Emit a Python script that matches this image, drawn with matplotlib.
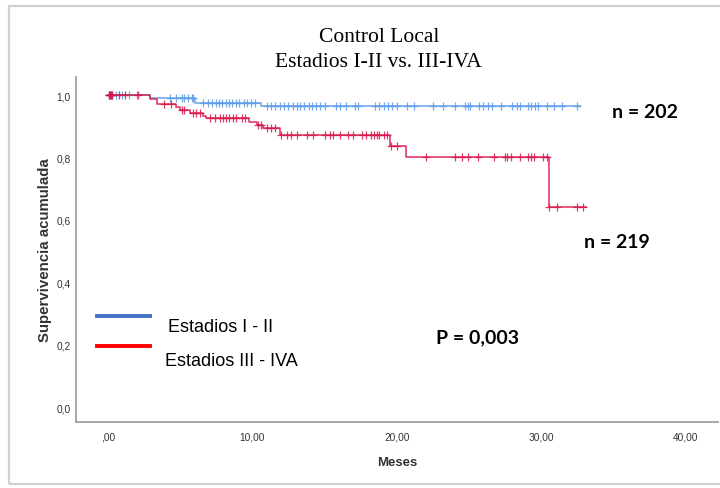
import numpy as np
import matplotlib
matplotlib.use("Agg")
import matplotlib.pyplot as plt
from matplotlib.patches import Rectangle
from matplotlib.lines import Line2D

# ---- data ----
# Estadios I-II (blue): step times and survival after each step
g1_times = [0.0, 2.9, 6.0, 10.6, 32.7]
g1_surv = [1.0, 0.992, 0.976, 0.966, 0.966]
g1_cens = [0.1, 0.3, 0.6, 1.0, 1.5, 2.0, 4.3, 4.75, 5.1, 5.3, 5.55, 5.8, 5.9,
           6.6, 6.9, 7.2, 7.5, 7.7, 7.9, 8.2, 8.4, 8.6, 8.9, 9.1, 9.4, 9.6, 9.9, 10.2,
           11.0, 11.3, 11.6, 11.9, 12.2, 12.5, 12.8, 13.1, 13.3, 13.6, 13.9, 14.1,
           14.4, 14.7, 15.0, 15.8, 16.1, 16.5, 17.1, 17.3, 18.5, 18.8, 19.1, 19.4,
           19.7, 20.0, 20.7, 21.2, 22.5, 23.2, 24.0, 24.7, 24.9, 25.1, 25.7, 26.0,
           26.3, 26.6, 27.2, 28.0, 28.3, 28.5, 29.1, 29.3, 29.6, 29.8, 30.4, 30.9,
           31.4, 32.5]

# Estadios III-IVA (red)
g2_times = [0.0, 2.9, 3.4, 4.75, 5.0, 5.7, 6.6, 6.8, 9.8, 10.3, 10.75, 11.9,
            19.5, 20.65, 30.5, 33.1]
g2_surv = [1.0, 0.987, 0.973, 0.961, 0.952, 0.944, 0.932, 0.925, 0.915, 0.904,
           0.893, 0.872, 0.838, 0.803, 0.642, 0.642]
g2_cens = [0.05, 0.1, 0.15, 0.2, 0.25, 0.3, 0.8, 1.2, 2.1, 3.9, 4.4, 5.1, 5.3,
           5.9, 6.1, 6.4, 7.1, 7.4, 7.75, 7.95, 8.2, 8.4, 8.65, 8.9, 9.3, 9.5,
           10.4, 10.6, 11.0, 11.3, 11.6, 12.0, 12.4, 12.7, 13.1, 13.8, 14.2, 15.0,
           15.4, 15.6, 16.1, 16.6, 17.0, 17.6, 17.9, 18.2, 18.4, 18.6, 18.8, 19.1,
           19.3, 19.6, 20.0, 22.05, 24.0, 24.5, 24.9, 25.6, 26.7, 27.5, 27.6, 27.9,
           28.5, 29.1, 29.3, 29.5, 30.1, 30.4, 30.5, 31.1, 32.5, 32.9]

x_ticks = [0, 10, 20, 30, 40]
x_ticklabels = [",00", "10,00", "20,00", "30,00", "40,00"]
y_ticks = [0.0, 0.2, 0.4, 0.6, 0.8, 1.0]
y_ticklabels = ["0,0", "0,2", "0,4", "0,6", "0,8", "1,0"]

c_blue = "#5b9be6"
c_red = "#d8174b"

fig = plt.figure(figsize=(7.2, 4.89), dpi=100)
fig.patch.set_facecolor("white")

# frame around the picture
fig.add_artist(Rectangle((0.012, 0.008), 0.99, 0.978, transform=fig.transFigure,
                         fill=False, edgecolor="#d0d0d0", linewidth=1.6))

ax = fig.add_axes([0.1056, 0.135, 0.891, 0.7055])


def surv_at(times, surv, t):
    idx = np.searchsorted(times, t, side="right") - 1
    return np.array(surv)[idx]


for times, surv, cens, col in [(g1_times, g1_surv, g1_cens, c_blue),
                               (g2_times, g2_surv, g2_cens, c_red)]:
    ax.step(times, surv, where="post", color=col, lw=1.1, alpha=0.9)
    ax.plot(cens, surv_at(times, surv, np.array(cens)), linestyle="none",
            marker="+", markersize=6, markeredgewidth=0.9, color=col, alpha=0.85)

ax.set_xlim(-2.2, 42.2)
ax.set_ylim(-0.048, 1.058)
ax.set_xticks(x_ticks)
ax.set_xticklabels(x_ticklabels, fontsize=7.3, family="Liberation Sans", color="#333333")
ax.set_yticks(y_ticks)
ax.set_yticklabels(y_ticklabels, fontsize=7.3, family="Liberation Sans", color="#333333")
ax.tick_params(axis="x", length=0, pad=7)
ax.tick_params(axis="y", length=0, pad=4)
for s in ["top", "right"]:
    ax.spines[s].set_visible(False)
for s in ["left", "bottom"]:
    ax.spines[s].set_color("#a0a0a0")
    ax.spines[s].set_linewidth(1.3)

ax.set_xlabel("Meses", fontsize=9.5, fontweight="bold", family="Liberation Sans",
              color="#333333", labelpad=10)
ax.set_ylabel("Supervivencia acumulada", fontsize=10.8, fontweight="bold",
              family="Liberation Sans", color="#333333", labelpad=3)

# titles
fig.text(0.526, 0.924, "Control Local", ha="center", va="center",
         family="Liberation Serif", fontsize=15.5)
fig.text(0.526, 0.872, "Estadios I-II vs. III-IVA", ha="center", va="center",
         family="Liberation Serif", fontsize=15.5)

# legend drawn manually
fig.add_artist(Line2D([97 / 720, 150 / 720], [1 - 317 / 489, 1 - 317 / 489],
                      color="#4472c4", lw=2.8, transform=fig.transFigure))
fig.add_artist(Line2D([97 / 720, 150 / 720], [1 - 347 / 489, 1 - 347 / 489],
                      color="#ff0000", lw=2.8, transform=fig.transFigure))
fig.text(168 / 720, 1 - 328 / 489, "Estadios I - II", ha="left", va="center",
         family="Liberation Sans", fontsize=13)
fig.text(165 / 720, 1 - 362 / 489, "Estadios III - IVA", ha="left", va="center",
         family="Liberation Sans", fontsize=13)

# annotations
fig.text(645 / 720, 1 - 112 / 489, "n = 202", ha="center", va="center",
         family="Lato", fontweight="bold", fontsize=14)
fig.text(617 / 720, 1 - 243 / 489, "n = 219", ha="center", va="center",
         family="Lato", fontweight="bold", fontsize=14)
fig.text(478 / 720, 1 - 338 / 489, "P = 0,003", ha="center", va="center",
         family="Lato", fontweight="bold", fontsize=14)

fig.savefig("out.png", dpi=100, facecolor="white")
